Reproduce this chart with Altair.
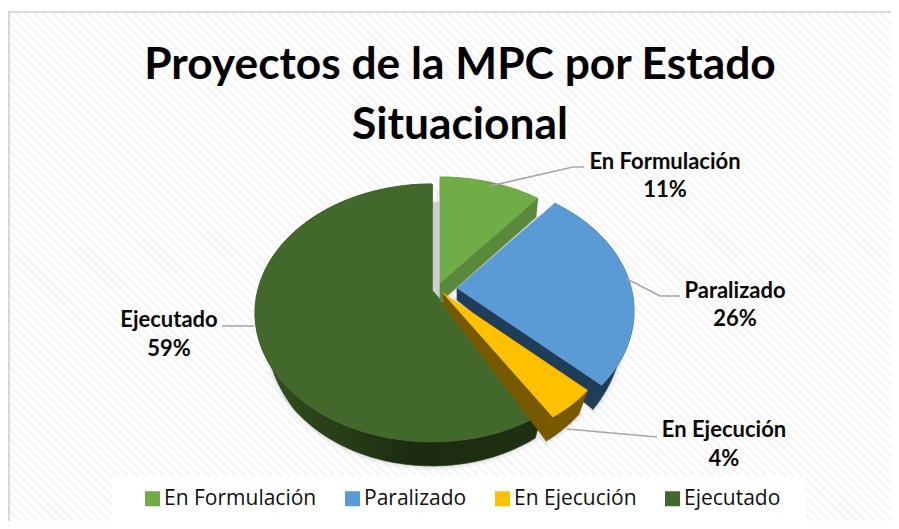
import math
import altair as alt
import pandas as pd

title_lines = ["Proyectos de la MPC por Estado", "Situacional"]
estados = ["En Formulación", "Paralizado", "En Ejecución", "Ejecutado"]
shares = [11, 26, 4, 59]
top_colors = ["#70AD47", "#5B9BD5", "#FFC000", "#43682B"]
wall_colors = ["#5A8A39", "#1F3D58", "#775A00", "#1E2F12"]
offsets = [(8, -7), (25, -2), (11, 3), (0, 0)]
label_xy = [(665, 162, 190), (735, 291, 319), (724, 430, 459), (169, 320, 349)]
leaders = [
    [(490, 186), (573, 167), (584, 167)],
    [(627, 279), (660, 296), (680, 296)],
    [(567, 429), (657, 437)],
    [(222, 326), (254, 326)],
]

W, H = 883, 513
X0, Y0 = 8, 8
x_enc = alt.X("x:Q", axis=None, scale=alt.Scale(domain=[X0, X0 + W]))
y_enc = alt.Y("y:Q", axis=None, scale=alt.Scale(domain=[Y0 + H, Y0]))

# 3-D view of the pie: a tilted circle seen in perspective
CX, CY, WX, HY, K = 432, 290, 174.2, 124.9, 0.178


def proj(deg, off):
    a = math.radians(deg)
    u, v = math.sin(a), math.cos(a)
    d = 1 + K * v
    return CX + WX * u / d + off[0], CY - HY * v / d + off[1]


def lower(p, off, i=None):
    vx = CX + off[0]
    if i == 0:  # the back slice shows a deeper, straighter side
        return vx + (p[0] - vx) * 0.98, p[1] + 19
    t = 12 + 12 * min(1.0, abs(p[1] - off[1] - CY) / 95)
    return vx + (p[0] - vx) * 0.94, p[1] + t


def arc(a0, a1, off):
    n = max(2, int(abs(a1 - a0) / 2))
    return [proj(a0 + (a1 - a0) * i / n, off) for i in range(n + 1)]


def frame(points, **extra):
    return pd.DataFrame(
        [{"x": p[0], "y": p[1], "i": i, **extra} for i, p in enumerate(points)]
    )


def poly(points, color, opacity=1.0, stroke_width=0.6, stroke=None):
    return (
        alt.Chart(frame(points))
        .mark_line(
            interpolate="linear-closed",
            fill=color,
            stroke=stroke or (color if isinstance(color, str) else "#1E2F12"),
            strokeWidth=stroke_width,
            opacity=opacity,
        )
        .encode(x=x_enc, y=y_enc, order="i:Q")
    )


angles = []
acc = 0.0
for s in shares:
    angles.append((acc * 3.6, (acc + s) * 3.6))
    acc += s

layers = []

# paper: diagonal hatch + frame (top and left edges only)
hatch = pd.DataFrame(
    [{"x": x0, "y": Y0 + 5, "x2": x0 + 560, "y2": Y0 + 5 + 560} for x0 in range(-560, 900, 9)]
)
layers.append(
    alt.Chart(hatch)
    .mark_rule(stroke="#F6F6F6", strokeWidth=3, clip=True)
    .encode(x=x_enc, x2="x2:Q", y=y_enc, y2="y2:Q")
)
for r in [
    {"x": X0 + 1, "x2": X0 + 1, "y": Y0 + 4, "y2": Y0 + H},
    {"x": X0, "x2": X0 + W, "y": Y0 + 4, "y2": Y0 + 4},
]:
    layers.append(
        alt.Chart(pd.DataFrame([r]))
        .mark_rule(stroke="#D9D9D9", strokeWidth=2)
        .encode(x=x_enc, x2="x2:Q", y=y_enc, y2="y2:Q")
    )
# legend backing
layers.append(
    alt.Chart(pd.DataFrame({"x": [112], "x2": [806], "y": [476], "y2": [521]}))
    .mark_rect(fill="white", opacity=0.9)
    .encode(x=x_enc, x2="x2:Q", y=y_enc, y2="y2:Q")
)

# pieces, drawn back to front
draw_order = [3, 0, 1, 2]


def slice_points(i):
    a0, a1 = angles[i]
    off = offsets[i]
    vertex = (CX + off[0], CY + off[1])
    return vertex, arc(a0, a1, off)


# soft shadow below
for i in draw_order:
    vertex, pts = slice_points(i)
    low = [lower(p, offsets[i], i) for p in pts]
    for sw, op in [(9, 0.05), (5, 0.08), (2, 0.12)]:
        layers.append(poly([lower(vertex, offsets[i], i)] + low, "#7F7F7F", op, sw, "#7F7F7F"))

# shadow sliver behind the first slice
_, g_pts = slice_points(0)
layers.append(
    poly([(CX + offsets[0][0] - 7, CY + offsets[0][1] + 25)] + [(p[0] - 7, p[1] + 25) for p in g_pts], "#CFCFCF")
)

wall_gradient = alt.LinearGradient(
    gradient="linear",
    x1=0,
    x2=1,
    y1=0,
    y2=0,
    stops=[
        alt.GradientStop(color="#34521F", offset=0.0),
        alt.GradientStop(color="#1C2C10", offset=0.55),
        alt.GradientStop(color="#1E2F12", offset=1.0),
    ],
)

for i in draw_order:
    off = offsets[i]
    vertex, pts = slice_points(i)
    low = [lower(p, off, i) for p in pts]
    lv = lower(vertex, off, i)
    # outer wall
    layers.append(poly(pts + low[::-1], wall_gradient if i == 3 else wall_colors[i]))
    # radial wall at the end of the slice
    layers.append(poly([vertex, pts[-1], low[-1], lv], wall_colors[i]))
    # top face
    df = frame([vertex] + pts, Estado=estados[i])
    layers.append(
        alt.Chart(df)
        .mark_line(interpolate="linear-closed", strokeWidth=0.5, stroke=top_colors[i])
        .encode(
            x=x_enc,
            y=y_enc,
            order="i:Q",
            fill=alt.Fill(
                "Estado:N",
                scale=alt.Scale(domain=estados, range=top_colors),
                sort=estados,
                legend=alt.Legend(
                    title=None,
                    orient="none",
                    legendX=134,
                    legendY=480,
                    direction="horizontal",
                    columns=4,
                    symbolType="square",
                    symbolSize=225,
                    symbolStrokeWidth=0,
                    symbolOpacity=1,
                    labelFont="Open Sans",
                    labelFontSize=21,
                    labelColor="#111111",
                    labelLimit=300,
                    labelOffset=1,
                    columnPadding=25,
                    symbolOffset=0,
                ),
            ),
        )
    )

# leader lines
for pts in leaders:
    layers.append(
        alt.Chart(frame(pts))
        .mark_line(stroke="#A6A6A6", strokeWidth=1.6)
        .encode(x=x_enc, y=y_enc, order="i:Q")
    )

# data labels
rows = []
for name, s, (lx, y1, y2) in zip(estados, shares, label_xy):
    rows.append({"x": lx, "y": y1, "t": name})
    rows.append({"x": lx, "y": y2, "t": f"{s}%"})
layers.append(
    alt.Chart(pd.DataFrame(rows))
    .mark_text(font="Lato", fontWeight="bold", fontSize=22, color="#0A0A0A", baseline="middle", align="center")
    .encode(x=x_enc, y=y_enc, text="t:N")
)

chart = (
    alt.layer(*layers)
    .properties(
        width=W,
        height=H,
        padding=0,
        autosize=alt.AutoSizeParams(type="none"),
        background="white",
        title=alt.TitleParams(
            text=title_lines,
            font="Lato",
            fontWeight="bold",
            fontSize=44.3,
            lineHeight=60,
            color="#000000",
            anchor="middle",
            dx=10.5,
            offset=-140,
        ),
    )
    .configure_view(stroke=None)
)
chart.save("out.html", embed_options={"renderer": "svg", "actions": False})
